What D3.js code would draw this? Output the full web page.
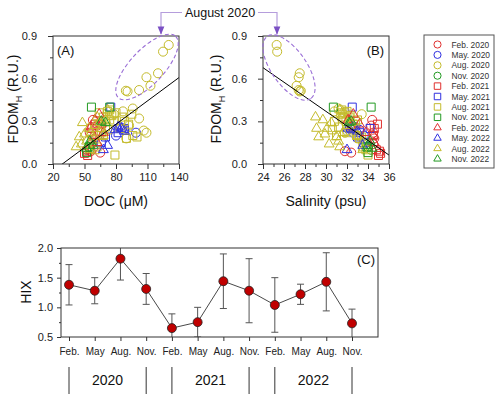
<!DOCTYPE html>
<html><head><meta charset="utf-8">
<script src="https://cdn.jsdelivr.net/npm/d3@7"></script>
<style>
body{margin:0;background:#fff;}
svg{display:block;font-family:"Liberation Sans",Arial,sans-serif;}
</style></head>
<body><svg id="c" width="500" height="401"></svg>
<script>
// ---------- DATA ----------
const groupNames = ["Feb. 2020","May. 2020","Aug. 2020","Nov. 2020","Feb. 2021","May. 2021","Aug. 2021","Nov. 2021","Feb. 2022","May. 2022","Aug. 2022","Nov. 2022"];
const groupColors = ["#e0302f","#3030e0","#c4bb2c","#229a22","#e0302f","#3030e0","#c4bb2c","#229a22","#e0302f","#3030e0","#c4bb2c","#229a22"];
const groupShapes = ["circle","circle","circle","circle","square","square","square","square","triangle","triangle","triangle","triangle"];

const docFeb20 = [58, 55, 62, 60, 56, 65, 57];
const salFeb20 = [34.4, 34.5, 34.3, 34.6, 31.8, 32.4, 34.5];
const fdomFeb20 = [0.31, 0.22, 0.27, 0.18, 0.09, 0.08, 0.14];

const docMay20 = [99, 86, 84, 88, 80];
const salMay20 = [32.6, 32.3, 32.8, 33.2, 33.6];
const fdomMay20 = [0.22, 0.25, 0.26, 0.24, 0.20];

const docAug20 = [130.2, 124.8, 120, 109, 112.8, 102, 89.4, 91, 102, 106.4, 109, 96, 86.6, 92.4, 89.8, 78];
const salAug20 = [25.3, 25.35, 27.5, 27.4, 27.2, 27.4, 27.6, 27.5, 31.5, 32.0, 31.8, 31.2, 30.8, 32.5, 33.0, 33.4];
const fdomAug20 = [0.837, 0.79, 0.638, 0.61, 0.55, 0.52, 0.515, 0.51, 0.32, 0.235, 0.22, 0.39, 0.37, 0.27, 0.18, 0.35];

const docNov20 = [54, 57, 52];
const salNov20 = [34.0, 33.8, 34.3];
const fdomNov20 = [0.12, 0.15, 0.10];

const docFeb21 = [50, 53, 55, 57, 60, 52, 64];
const salFeb21 = [35.2, 35.0, 34.8, 34.6, 34.9, 35.1, 34.5];
const fdomFeb21 = [0.075, 0.06, 0.10, 0.25, 0.28, 0.09, 0.20];

const docMay21 = [75, 70, 88, 66, 82];
const salMay21 = [32.5, 33.0, 34.2, 33.6, 33.2];
const fdomMay21 = [0.40, 0.19, 0.25, 0.15, 0.22];

const docAug21 = [74, 80, 86, 92, 96, 100, 78, 70, 66, 62, 84, 90, 79, 72, 68, 60, 88, 95, 64, 68, 72, 76, 70, 66, 74, 62];
const salAug21 = [31.5, 31.8, 32.2, 32.6, 33.0, 33.4, 30.8, 31.2, 32.0, 33.5, 32.4, 33.2, 34.0, 30.6, 31.0, 33.8, 32.8, 31.6, 31.4, 31.7, 32.0, 32.3, 31.9, 32.6, 33.0, 32.9];
const fdomAug21 = [0.38, 0.36, 0.33, 0.28, 0.20, 0.19, 0.30, 0.26, 0.22, 0.12, 0.25, 0.18, 0.063, 0.24, 0.20, 0.10, 0.30, 0.35, 0.36, 0.33, 0.37, 0.34, 0.30, 0.28, 0.31, 0.20];

const docNov21 = [56.6, 74, 52, 55];
const salNov21 = [34.3, 30.7, 34.0, 33.9];
const fdomNov21 = [0.40, 0.40, 0.08, 0.12];

const docFeb22 = [60, 64, 66, 58, 62, 68, 56];
const salFeb22 = [32.1, 32.6, 33.2, 34.5, 34.6, 33.8, 32.4];
const fdomFeb22 = [0.31, 0.35, 0.28, 0.20, 0.15, 0.22, 0.26];

const docMay22 = [85, 79, 82, 88, 72, 68];
const salMay22 = [32.1, 32.3, 32.6, 33.0, 33.5, 32.0];
const fdomMay22 = [0.25, 0.24, 0.26, 0.23, 0.13, 0.10];

const docAug22 = [62, 70, 66, 58, 54, 50, 48, 45, 42, 52, 56, 60, 64, 68, 72, 47, 55];
const salAug22 = [29.0, 29.7, 29.1, 29.3, 30.1, 29.9, 30.5, 31.0, 31.3, 31.2, 31.6, 32.0, 32.4, 33.0, 31.3, 30.3, 33.5];
const fdomAug22 = [0.33, 0.31, 0.25, 0.19, 0.25, 0.21, 0.29, 0.19, 0.12, 0.16, 0.22, 0.27, 0.29, 0.20, 0.38, 0.14, 0.10];

const docNov22 = [66, 70, 52, 55, 58];
const salNov22 = [32.4, 32.2, 34.4, 34.2, 34.0];
const fdomNov22 = [0.30, 0.29, 0.11, 0.16, 0.13];

const docGroups = [docFeb20, docMay20, docAug20, docNov20, docFeb21, docMay21, docAug21, docNov21, docFeb22, docMay22, docAug22, docNov22];
const salGroups = [salFeb20, salMay20, salAug20, salNov20, salFeb21, salMay21, salAug21, salNov21, salFeb22, salMay22, salAug22, salNov22];
const fdomGroups = [fdomFeb20, fdomMay20, fdomAug20, fdomNov20, fdomFeb21, fdomMay21, fdomAug21, fdomNov21, fdomFeb22, fdomMay22, fdomAug22, fdomNov22];

// regression lines [intercept, slope]
const regDOC = [-0.158, 0.00547];
const regSal = [1.906, -0.0512];

// ticks
const docTicks = [20, 50, 80, 110, 140];
const salTicks = [24, 26, 28, 30, 32, 34, 36];
const fdomTicks = [0.0, 0.3, 0.6, 0.9];
const hixTicks = [0.5, 1.0, 1.5, 2.0];

// HIX panel
const hixMonths = ["Feb.","May","Aug.","Nov.","Feb.","May","Aug.","Nov.","Feb.","May","Aug.","Nov."];
const hixValues = [1.38, 1.28, 1.82, 1.31, 0.65, 0.75, 1.44, 1.28, 1.04, 1.22, 1.43, 0.73];
const hixErrors = [0.34, 0.22, 0.36, 0.26, 0.24, 0.25, 0.46, 0.54, 0.46, 0.17, 0.49, 0.24];
const years = ["2020","2021","2022"];

// ---------- DRAW ----------
const svg = d3.select("#c");
const axisCol = "#333";
const font = "Liberation Sans, Arial, sans-serif";

const defs = svg.append("defs");
defs.append("marker").attr("id","arr").attr("viewBox","0 0 10 10").attr("refX",9).attr("refY",5)
  .attr("markerWidth",7).attr("markerHeight",7).attr("orient","auto")
  .append("path").attr("d","M0,1 L10,5 L0,9 Z").attr("fill","#7a4fc4");

function shapePath(shape, big) {
  if (shape === "circle") return d3.symbol(d3.symbolCircle, big ? 64 : 40)();
  if (shape === "square") return d3.symbol(d3.symbolSquare, big ? 64 : 42)();
  return d3.symbol(d3.symbolTriangle, big ? 42 : 24)();
}

function scatterPanel(opt) {
  const x = d3.scaleLinear().domain(opt.xDomain).range(opt.xRange);
  const y = d3.scaleLinear().domain([0, 0.9]).range([164, 36]);
  const g = svg.append("g");
  const cid = "clip" + opt.id;
  defs.append("clipPath").attr("id", cid).append("rect")
    .attr("x", x.range()[0]).attr("y", y.range()[1])
    .attr("width", x.range()[1]-x.range()[0]).attr("height", y.range()[0]-y.range()[1]);

  const pg = g.append("g").attr("clip-path", `url(#${cid})`);
  for (let gi = 0; gi < groupNames.length; gi++) {
    const xs = opt.xGroups[gi], ys = fdomGroups[gi];
    pg.append("g").selectAll("path").data(xs.map((v,i)=>[v, ys[i]])).join("path")
      .attr("d", shapePath(groupShapes[gi], true))
      .attr("transform", d => `translate(${x(d[0])},${y(d[1])})`)
      .attr("fill","none").attr("stroke", groupColors[gi]).attr("stroke-width", 1);
  }
  const xd = x.domain();
  pg.append("line")
    .attr("x1", x(xd[0])).attr("y1", y(opt.reg[0] + opt.reg[1]*xd[0]))
    .attr("x2", x(xd[1])).attr("y2", y(opt.reg[0] + opt.reg[1]*xd[1]))
    .attr("stroke","#000").attr("stroke-width",1);

  g.append("rect").attr("x", x.range()[0]).attr("y", y.range()[1])
    .attr("width", x.range()[1]-x.range()[0]).attr("height", y.range()[0]-y.range()[1])
    .attr("fill","none").attr("stroke",axisCol).attr("stroke-width",1);

  g.append("g").attr("transform",`translate(0,164)`)
    .call(d3.axisBottom(x).tickValues(opt.xTicks).tickFormat(d3.format("d")).tickSize(5).tickPadding(4));
  g.append("g").attr("transform",`translate(0,164)`)
    .call(d3.axisBottom(x).tickValues(opt.xMinor).tickFormat("").tickSize(3));
  g.append("g").attr("transform",`translate(${x.range()[0]},0)`)
    .call(d3.axisLeft(y).tickValues(fdomTicks).tickFormat(d3.format(".1f")).tickSize(5).tickPadding(11));
  g.append("g").attr("transform",`translate(${x.range()[0]},0)`)
    .call(d3.axisLeft(y).tickValues([0.15,0.45,0.75]).tickFormat("").tickSize(3));
  g.selectAll(".domain").remove();
  g.selectAll(".tick line").attr("stroke",axisCol);
  g.selectAll(".tick text").attr("font-size","11px").attr("fill","#222").attr("font-family",font);

  const e = opt.ellipse;
  g.append("ellipse").attr("cx", e.cx).attr("cy", e.cy).attr("rx", e.rx).attr("ry", e.ry)
    .attr("transform", `rotate(${e.rot},${e.cx},${e.cy})`)
    .attr("fill","none").attr("stroke","#9a6fd6").attr("stroke-width",1.1).attr("stroke-dasharray","4,2.5");

  g.append("text").attr("x", (x.range()[0]+x.range()[1])/2).attr("y", 206).attr("text-anchor","middle")
    .attr("font-size","14px").attr("fill","#111").text(opt.xTitle);
  const yt = g.append("text").attr("transform", `translate(${opt.yTitleX},99) rotate(-90)`)
    .attr("text-anchor","middle").attr("font-size","14px").attr("fill","#111");
  yt.append("tspan").text("FDOM");
  yt.append("tspan").attr("font-size","9px").attr("dy","4").text("H");
  yt.append("tspan").attr("dy","-4").text(" (R.U.)");
  g.append("text").attr("x", opt.labelX).attr("y", 55).attr("text-anchor", opt.labelAnchor)
    .attr("font-size","13px").attr("fill","#111").text(opt.label);
}

scatterPanel({id:"A", xDomain:[20,140], xRange:[53,179], xGroups: docGroups, xTicks: docTicks,
  xMinor:[35,65,95,125],
  reg: regDOC, xTitle:"DOC (\u03bcM)", yTitleX: 18, label:"(A)", labelX: 57, labelAnchor:"start",
  ellipse:{cx:147, cy:67, rx:42, ry:17, rot:-47}});
scatterPanel({id:"B", xDomain:[24,36], xRange:[263,389], xGroups: salGroups, xTicks: salTicks,
  xMinor:[25,27,29,31,33,35],
  reg: regSal, xTitle:"Salinity (psu)", yTitleX: 221, label:"(B)", labelX: 384, labelAnchor:"end",
  ellipse:{cx:289, cy:67.5, rx:38, ry:17.5, rot:55}});

// August 2020 annotation
svg.append("text").attr("x", 220).attr("y", 16.5).attr("text-anchor","middle")
  .attr("font-size","12.5px").attr("fill","#111").text("August 2020");
svg.append("path").attr("d","M182,12.5 H161 V34").attr("fill","none").attr("stroke","#b59ddc").attr("stroke-width",1.2).attr("marker-end","url(#arr)");
svg.append("path").attr("d","M258,12.5 H277 V34").attr("fill","none").attr("stroke","#b59ddc").attr("stroke-width",1.2).attr("marker-end","url(#arr)");

// legend
{
  const lg = svg.append("g");
  lg.append("rect").attr("x",424).attr("y",35).attr("width",70).attr("height",133)
    .attr("fill","#fff").attr("stroke","#555").attr("stroke-width",1);
  groupNames.forEach((n,i)=>{
    const yy = 44.5 + i*10.4;
    lg.append("path").attr("d", shapePath(groupShapes[i], false))
      .attr("transform",`translate(437.5,${yy})`).attr("fill","none")
      .attr("stroke",groupColors[i]).attr("stroke-width",1);
    lg.append("text").attr("x",451.5).attr("y",yy+3).attr("font-size","8.4px").attr("fill","#333").text(n);
  });
}

// ---------- Panel C ----------
{
  const x = d3.scaleLinear().domain([0,11]).range([69,352]);
  const y = d3.scaleLinear().domain([0.5,2.0]).range([337,248]);
  const g = svg.append("g");
  defs.append("clipPath").attr("id","clipC").append("rect").attr("x",61).attr("y",248).attr("width",317).attr("height",89);
  const data = hixValues.map((v,i)=>({i, v, e: hixErrors[i]}));

  const pg = g.append("g").attr("clip-path","url(#clipC)");
  const eb = pg.append("g").selectAll("g").data(data).join("g");
  eb.append("line").attr("x1",d=>x(d.i)).attr("x2",d=>x(d.i)).attr("y1",d=>y(d.v+d.e)).attr("y2",d=>y(d.v-d.e))
    .attr("stroke","#555").attr("stroke-width",1);
  eb.append("line").attr("x1",d=>x(d.i)-3.5).attr("x2",d=>x(d.i)+3.5).attr("y1",d=>y(d.v+d.e)).attr("y2",d=>y(d.v+d.e))
    .attr("stroke","#555").attr("stroke-width",1);
  eb.append("line").attr("x1",d=>x(d.i)-3.5).attr("x2",d=>x(d.i)+3.5).attr("y1",d=>y(d.v-d.e)).attr("y2",d=>y(d.v-d.e))
    .attr("stroke","#555").attr("stroke-width",1);
  pg.append("path").datum(data).attr("d", d3.line().x(d=>x(d.i)).y(d=>y(d.v)))
    .attr("fill","none").attr("stroke","#333").attr("stroke-width",0.9);
  pg.append("g").selectAll("circle").data(data).join("circle")
    .attr("cx",d=>x(d.i)).attr("cy",d=>y(d.v)).attr("r",4.5)
    .attr("fill","#c00000").attr("stroke","#222").attr("stroke-width",0.8);

  g.append("rect").attr("x",61).attr("y",248).attr("width",317).attr("height",89)
    .attr("fill","none").attr("stroke",axisCol).attr("stroke-width",1);

  g.append("g").attr("class","yax").attr("transform","translate(61,0)")
    .call(d3.axisLeft(y).tickValues(hixTicks).tickFormat(d3.format(".1f")).tickSize(4).tickPadding(4));
  g.append("g").attr("transform","translate(61,0)")
    .call(d3.axisLeft(y).tickValues([0.75,1.25,1.75]).tickFormat("").tickSize(2));
  g.append("g").attr("class","xax").attr("transform","translate(0,337)")
    .call(d3.axisBottom(x).tickValues(d3.range(12)).tickFormat(i=>hixMonths[i]).tickSize(4).tickPadding(7));
  g.selectAll(".domain").remove();
  g.selectAll(".tick line").attr("stroke",axisCol);
  g.selectAll(".tick text").attr("fill","#222").attr("font-family",font).attr("font-size","11px");
  g.selectAll(".xax .tick text").attr("font-size","10px");

  g.append("text").attr("transform","translate(31,292) rotate(-90)").attr("text-anchor","middle")
    .attr("font-size","14px").attr("fill","#111").text("HIX");
  g.append("text").attr("x",375).attr("y",264).attr("text-anchor","end").attr("font-size","13px").attr("fill","#111").text("(C)");

  const seps = [0,3,4,7,8,11];
  g.append("g").selectAll("line").data(seps).join("line")
    .attr("x1",d=>x(d)).attr("x2",d=>x(d)).attr("y1",367).attr("y2",394)
    .attr("stroke","#333").attr("stroke-width",1);
  g.append("g").selectAll("text").data(years).join("text")
    .attr("x",(d,i)=>x(i*4+1.5)).attr("y",385).attr("text-anchor","middle")
    .attr("font-size","14px").attr("fill","#111").text(d=>d);
}
</script></body></html>
